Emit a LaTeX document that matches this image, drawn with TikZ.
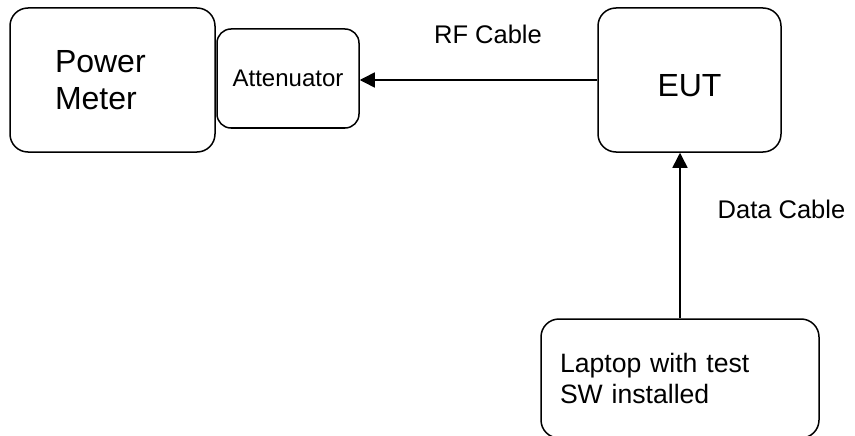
\documentclass[tikz,border=0pt]{standalone}
\usepackage{fontspec}
\setmainfont{Liberation Sans}
\usetikzlibrary{arrows.meta}
\begin{document}
\begin{tikzpicture}[x=1pt,y=-1pt,>={Triangle[length=15pt,width=15pt]},line width=1.5pt,
	box/.style={draw,rounded corners=18pt,inner sep=0pt},
	big/.style={font=\fontsize{32}{37}\selectfont},
	small/.style={font=\fontsize{25.5}{31}\selectfont}]
	\useasboundingbox (0,0) rectangle (855,436);
	\node[box,big,minimum width=205pt,minimum height=144pt,text width=115pt,inner xsep=45pt,align=left] (pm) at (112.5,80) {Power\\Meter};
	\node[box,rounded corners=14pt,minimum width=142pt,minimum height=99pt,font=\fontsize{24}{28}\selectfont] (att) at (288,78.5) {Attenuator};
	\node[box,big,minimum width=183pt,minimum height=144pt,text height=33pt,text depth=0pt] (eut) at (689.5,80) {EUT};
	\node[box,font=\fontsize{26.6}{31}\selectfont,minimum width=278pt,minimum height=119pt,text width=240pt,inner xsep=19pt,align=left] (lap) at (680,378.5) {Laptop with test\\SW installed};
	\draw[->] (eut.west |- 0,80) -- (att.east |- 0,80);
	\draw[->] (lap.north) -- (lap.north |- eut.south);
	\node[small] (rf) at (488,34) {RF Cable};
	\node[small] (data) at (781.5,209) {Data Cable};
\end{tikzpicture}
\end{document}
